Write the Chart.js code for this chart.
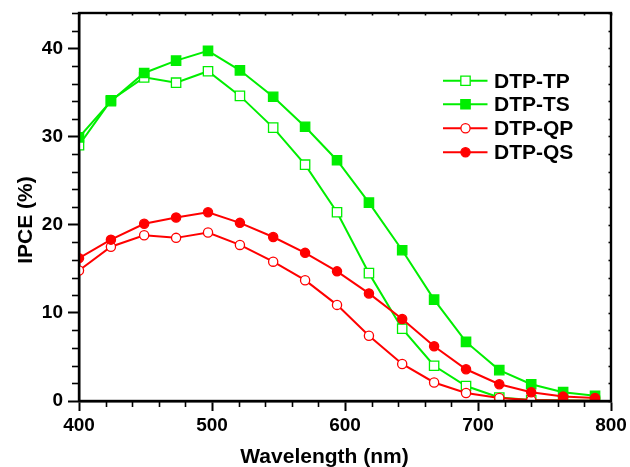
<!DOCTYPE html>
<html>
<head>
<meta charset="utf-8">
<script src="https://cdn.jsdelivr.net/npm/chart.js@4"></script>
<style>
html,body{margin:0;padding:0;background:#fff;}
#wrap{position:relative;width:630px;height:467px;}
</style>
</head>
<body>
<div id="wrap"><canvas id="c" width="630" height="467"></canvas></div>
<script>
const wavelengths = [400,424,449,473,497,521,546,570,594,618,643,667,691,716,740,764,788];
const tpValues = [29.0,34.1,36.7,36.1,37.4,34.6,31.0,26.8,21.4,14.5,8.2,4.0,1.7,0.4,0.1,0.05,0.02];
const tsValues = [29.9,34.0,37.2,38.6,39.7,37.5,34.5,31.1,27.3,22.5,17.1,11.5,6.7,3.5,1.9,1.0,0.6];
const qpValues = [14.8,17.5,18.8,18.5,19.1,17.7,15.8,13.7,10.9,7.4,4.2,2.1,0.9,0.35,0.1,0.05,0.02];
const qsValues = [16.2,18.3,20.1,20.8,21.4,20.2,18.6,16.8,14.7,12.2,9.3,6.2,3.6,1.9,1.0,0.5,0.35];
const seriesNames = ['DTP-TP','DTP-TS','DTP-QP','DTP-QS'];
const xTickValues = [400,500,600,700,800];
const yTickValues = [0,10,20,30,40];
const xTitle = 'Wavelength (nm)';
const yTitle = 'IPCE (%)';

const GREEN = '#00ee00';
const RED = '#ff0000';
const FONT = '"Liberation Sans", Arial, sans-serif';

function pts(vals){ return wavelengths.map((x,i)=>({x:x,y:vals[i]})); }

function ds(label, vals, color, shape, filled, order){
  return {
    label: label,
    data: pts(vals),
    borderColor: color,
    backgroundColor: filled ? color : '#ffffff',
    pointBorderColor: color,
    pointBackgroundColor: filled ? color : '#ffffff',
    pointStyle: shape,
    pointRadius: shape === 'rect' ? 6.6 : 4.6,
    pointBorderWidth: 1.3,
    borderWidth: 2,
    tension: 0,
    fill: false,
    order: order
  };
}

const framePlugin = {
  id: 'frame',
  beforeDatasetsDraw(chart){
    const ctx = chart.ctx, a = chart.chartArea;
    const xs = chart.scales.x, ys = chart.scales.y;
    ctx.save();
    ctx.strokeStyle = '#000';
    ctx.lineWidth = 1.6;
    for (let v = 400; v <= 800; v += 20){
      const px = Math.round(xs.getPixelForValue(v)) + 0.5;
      if (v % 100 !== 0){
        ctx.beginPath(); ctx.moveTo(px, a.bottom); ctx.lineTo(px, a.bottom + 6); ctx.stroke();
      }
      ctx.beginPath(); ctx.moveTo(px, a.top); ctx.lineTo(px, a.top + 2.5); ctx.stroke();
    }
    for (let v = 0; v <= 44; v += 2){
      const py = Math.round(ys.getPixelForValue(v)) + 0.5;
      if (v % 10 !== 0){
        ctx.beginPath(); ctx.moveTo(a.left, py); ctx.lineTo(a.left - 7, py); ctx.stroke();
      }
      ctx.beginPath(); ctx.moveTo(a.right, py); ctx.lineTo(a.right - 2.5, py); ctx.stroke();
    }
    ctx.restore();
  },
  afterDatasetsDraw(chart){
    const ctx = chart.ctx, a = chart.chartArea;
    ctx.save();
    ctx.strokeStyle = '#000';
    ctx.lineWidth = 2.4;
    ctx.strokeRect(a.left, a.top, a.right - a.left, a.bottom - a.top);
    const rows = [80.7, 104.3, 128.3, 152.3];
    chart.data.datasets.forEach((d, i) => {
      const y = rows[i];
      ctx.strokeStyle = d.borderColor;
      ctx.lineWidth = 2;
      ctx.beginPath(); ctx.moveTo(443, y); ctx.lineTo(487.5, y); ctx.stroke();
      ctx.fillStyle = d.pointBackgroundColor;
      ctx.strokeStyle = d.pointBorderColor;
      ctx.lineWidth = d.pointBorderWidth;
      Chart.helpers.drawPoint(ctx, {pointStyle: d.pointStyle, radius: d.pointRadius, borderWidth: d.pointBorderWidth, rotation: 0}, 465.5, y);
      ctx.fillStyle = '#000';
      ctx.font = 'bold 21px ' + FONT;
      ctx.textAlign = 'left';
      ctx.textBaseline = 'alphabetic';
      ctx.fillText(d.label, 494, y + 7);
    });
    ctx.fillStyle = '#000';
    ctx.font = 'bold 21px ' + FONT;
    ctx.textAlign = 'center';
    ctx.textBaseline = 'alphabetic';
    ctx.fillText(xTitle, 324.5, 462.5);
    ctx.translate(32, 220);
    ctx.rotate(-Math.PI / 2);
    ctx.fillText(yTitle, 0, 0);
    ctx.restore();
  }
};

new Chart(document.getElementById('c'), {
  type: 'line',
  data: {
    datasets: [
      ds(seriesNames[0], tpValues, GREEN, 'rect', false, 4),
      ds(seriesNames[1], tsValues, GREEN, 'rect', true, 3),
      ds(seriesNames[2], qpValues, RED, 'circle', false, 2),
      ds(seriesNames[3], qsValues, RED, 'circle', true, 1)
    ]
  },
  options: {
    responsive: false,
    animation: false,
    devicePixelRatio: 1,
    layout: { padding: { top: 13, right: 19, left: 0, bottom: 0 } },
    plugins: { legend: { display: false }, tooltip: { enabled: false } },
    scales: {
      x: {
        type: 'linear',
        min: 400, max: 800,
        afterFit(s){ s.height = 66; s.paddingLeft = 0; s.paddingRight = 0; },
        afterBuildTicks(s){ s.ticks = xTickValues.map(v => ({value: v})); },
        ticks: { color: '#000', padding: 3, font: { family: FONT, size: 19, weight: 'bold' }, maxRotation: 0, autoSkip: false },
        grid: { display: true, drawOnChartArea: false, drawTicks: true, tickLength: 10, tickWidth: 2, tickColor: '#000' },
        border: { display: true, color: '#000', width: 2.4 }
      },
      y: {
        type: 'linear',
        min: 0, max: 44,
        afterFit(s){ s.width = 79; s.paddingTop = 0; s.paddingBottom = 0; },
        afterBuildTicks(s){ s.ticks = yTickValues.map(v => ({value: v})); },
        ticks: { color: '#000', padding: 5, font: { family: FONT, size: 19, weight: 'bold' }, autoSkip: false },
        grid: { display: true, drawOnChartArea: false, drawTicks: true, tickLength: 11, tickWidth: 2, tickColor: '#000' },
        border: { display: true, color: '#000', width: 2.4 }
      }
    }
  },
  plugins: [framePlugin]
});
</script>
</body>
</html>
